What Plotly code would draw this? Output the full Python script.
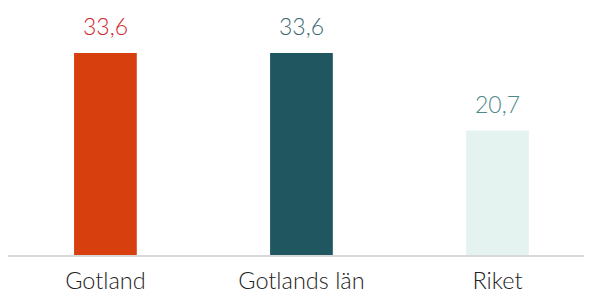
import plotly.graph_objects as go

categories = ["Gotland", "Gotlands län", "Riket"]
values = [33.6, 33.6, 20.7]
value_labels = ["33,6", "33,6", "20,7"]
bar_colors = ["#d7400e", "#1f5660", "#e5f3f0"]
label_colors = ["#d0262c", "#3b6a70", "#4f8a8a"]

fig = go.Figure()
fig.add_trace(go.Bar(
    x=categories,
    y=values,
    marker=dict(color=bar_colors, line=dict(width=0)),
    width=0.32,
    hoverinfo="skip",
))
for c, v, t, col in zip(categories, values, value_labels, label_colors):
    fig.add_annotation(
        x=c, y=v, text=t, showarrow=False,
        yanchor="bottom", yshift=11,
        font=dict(color=col, size=23, family="Lato", weight=300),
    )
fig.update_layout(
    width=592, height=296,
    margin=dict(l=0, r=0, t=0, b=49, autoexpand=False),
    plot_bgcolor="white", paper_bgcolor="white",
    showlegend=False,
    xaxis=dict(
        range=[-0.497, 2.523], automargin=False,
        showline=True, linecolor="#d9d9d9", linewidth=2,
        showgrid=False, ticks="", zeroline=False,
        ticklabelstandoff=4,
        tickfont=dict(size=23.5, family="Lato", color="#222222", weight=300),
    ),
    yaxis=dict(range=[0, 41.1], visible=False, automargin=False),
)
fig.write_html("out.html")
